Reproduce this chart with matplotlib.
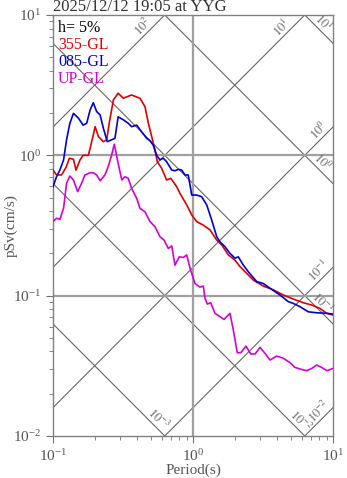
import numpy as np
import matplotlib.pyplot as plt

plt.rcParams['font.family'] = ['Liberation Serif', 'DejaVu Serif']
plt.rcParams['mathtext.fontset'] = 'stix'

title = "2025/12/12 19:05 at YYG"
damping = "h= 5%"

# pseudo velocity response, 355-GL component
t_ns = [0.100, 0.106, 0.115, 0.124, 0.131, 0.140, 0.146, 0.156, 0.164, 0.179,
        0.189, 0.200, 0.211, 0.229, 0.242, 0.252, 0.270, 0.292, 0.318, 0.364,
        0.418, 0.454, 0.480, 0.507, 0.535, 0.556, 0.597, 0.648, 0.693, 0.723,
        0.765, 0.807, 0.902, 0.979, 1.062, 1.185, 1.322, 1.477, 1.603, 1.788,
        1.995, 2.166, 2.419, 2.697, 3.178, 3.748, 4.418, 5.200, 6.14, 7.05,
        8.07, 9.02, 10.0]
sv_ns = [0.785, 0.724, 0.724, 0.821, 0.953, 0.937, 0.785, 0.927, 1.00, 1.00,
         1.25, 1.60, 1.36, 1.25, 1.29, 1.69, 2.48, 2.77, 2.55, 2.69,
         2.55, 2.22, 1.69, 1.36, 1.09, 0.900, 0.808, 0.667, 0.685, 0.648,
         0.597, 0.536, 0.443, 0.376, 0.337, 0.318, 0.294, 0.249, 0.230, 0.195,
         0.179, 0.161, 0.144, 0.129, 0.117, 0.110, 0.101, 0.0946, 0.0890, 0.0857,
         0.0811, 0.0748, 0.0728]

# 085-GL component
t_ew = [0.100, 0.106, 0.112, 0.119, 0.125, 0.132, 0.140, 0.152, 0.164, 0.174,
        0.184, 0.194, 0.205, 0.217, 0.229, 0.244, 0.262, 0.277, 0.292, 0.318,
        0.345, 0.364, 0.396, 0.430, 0.467, 0.493, 0.520, 0.550, 0.581, 0.613,
        0.648, 0.705, 0.743, 0.785, 0.830, 0.877, 0.925, 0.952, 0.979, 1.062,
        1.153, 1.253, 1.360, 1.477, 1.559, 1.693, 1.837, 1.995, 2.107, 2.288,
        2.483, 2.851, 3.178, 3.548, 4.181, 4.795, 5.200, 5.81, 6.67, 7.65,
        9.02, 10.0]
sv_ew = [0.597, 0.704, 0.785, 0.927, 1.29, 1.69, 1.99, 1.84, 1.64, 1.69,
         2.10, 2.37, 2.05, 1.94, 1.56, 1.25, 1.29, 1.32, 1.88, 1.79,
         1.69, 1.60, 1.64, 1.47, 1.32, 1.27, 1.18, 1.00, 0.927, 0.953,
         0.900, 0.785, 0.776, 0.794, 0.785, 0.724, 0.724, 0.614, 0.521, 0.521,
         0.507, 0.443, 0.346, 0.263, 0.242, 0.223, 0.200, 0.185, 0.189, 0.165,
         0.148, 0.126, 0.122, 0.113, 0.101, 0.0906, 0.0881, 0.0834, 0.0767, 0.0755,
         0.0748, 0.0739]

# vertical component
t_ud = [0.100, 0.106, 0.112, 0.119, 0.125, 0.132, 0.140, 0.150, 0.160, 0.169,
        0.184, 0.194, 0.205, 0.217, 0.235, 0.248, 0.262, 0.274, 0.292, 0.310,
        0.327, 0.345, 0.364, 0.396, 0.418, 0.454, 0.493, 0.535, 0.581, 0.621,
        0.666, 0.705, 0.743, 0.798, 0.853, 0.902, 0.952, 1.033, 1.122, 1.185,
        1.218, 1.265, 1.337, 1.436, 1.559, 1.664, 1.837, 1.941, 2.072, 2.192,
        2.391, 2.582, 2.773, 3.012, 3.266, 3.548, 3.963, 4.418, 4.929, 5.35,
        5.97, 6.49, 7.05, 7.65, 8.30, 9.02, 10.0]
sv_ud = [0.337, 0.356, 0.350, 0.419, 0.631, 0.712, 0.667, 0.551, 0.631, 0.724,
         0.751, 0.751, 0.724, 0.659, 0.724, 0.830, 1.00, 1.20, 0.877, 0.667,
         0.704, 0.685, 0.582, 0.494, 0.419, 0.396, 0.337, 0.310, 0.263, 0.249,
         0.217, 0.226, 0.165, 0.189, 0.187, 0.195, 0.157, 0.122, 0.115, 0.117,
         0.0957, 0.0871, 0.0890, 0.0748, 0.0708, 0.0678, 0.0748, 0.0569, 0.0392, 0.0392,
         0.0437, 0.0384, 0.0384, 0.0428, 0.0388, 0.0348, 0.0371, 0.0358, 0.0333, 0.0308,
         0.0298, 0.0292, 0.0303, 0.0320, 0.0308, 0.0292, 0.0303]

components = ["355-GL", "085-GL", "UP-GL"]
colors = ["#e00000", "#0000d8", "#d800d8"]

# tripartite guide lines: acceleration (cm/s^2) and displacement (cm)
acc_levels = [1e-3, 1e-2, 1e-1, 1e0, 1e1, 1e2, 1e3]
disp_levels = [1e-4, 1e-3, 1e-2, 1e-1, 1e0, 1e1, 1e2]
# where each guide line gets its label (period along the line)
acc_marks = [(1e2, 0.477), (1e1, 4.69), (1e0, 8.63), (1e-1, 8.63), (1e-2, 8.63)]
disp_marks = [(1e1, 7.8), (1e0, 7.69), (1e-1, 7.69), (1e-2, 5.35), (1e-3, 0.518)]

fig = plt.figure(figsize=(3.47, 4.78), dpi=100)
ax = fig.add_axes([0.1527, 0.0879, 0.807, 0.8808])
ax.set_xscale('log')
ax.set_yscale('log')
ax.set_xlim(0.1, 10)
ax.set_ylim(0.01, 10)

gray = '#666666'
t = np.logspace(-1, 1, 50)
for a in acc_levels:
    ax.plot(t, a * t / (2 * np.pi), color=gray, lw=0.8, zorder=1)
for d in disp_levels:
    ax.plot(t, 2 * np.pi * d / t, color=gray, lw=0.8, zorder=1)

ax.axvline(1.0, color='#a0a0a0', lw=1.6, zorder=1)
for v in [0.1, 1.0]:
    ax.axhline(v, color='#a0a0a0', lw=1.6, zorder=1)

for a, tp in acc_marks:
    k = int(round(np.log10(a)))
    ax.text(tp, a * tp / (2 * np.pi), r'$10^{%d}$' % k, rotation=45,
            rotation_mode='anchor', ha='center', va='bottom',
            fontsize=9, color=gray)
for d, tp in disp_marks:
    k = int(round(np.log10(d)))
    ax.text(tp, 2 * np.pi * d / tp, r'$10^{%d}$' % k, rotation=-45,
            rotation_mode='anchor', ha='center', va='bottom',
            fontsize=9, color=gray)

for tt, sv, c in zip([t_ns, t_ew, t_ud], [sv_ns, sv_ew, sv_ud], colors):
    ax.plot(tt, sv, color=c, lw=1.2, zorder=3)

# legend as stacked coloured text
ax.text(0.018, 0.969, damping, transform=ax.transAxes, fontsize=11.5,
        color='black', va='center')
for i, (name, c) in enumerate(zip(components, colors)):
    ax.text(0.018, 0.929 - 0.04 * i, name, transform=ax.transAxes,
            fontsize=11.5, color=c, va='center')

for s in ax.spines.values():
    s.set_color('#808080')
    s.set_linewidth(1.0)
ax.tick_params(which='both', direction='out', colors='#707070',
               labelcolor='#555555', labelsize=11)
ax.tick_params(which='major', length=5)
ax.tick_params(which='minor', length=3)

ax.set_xlabel("Period(s)", fontsize=11, color='#555555', labelpad=0)
ax.set_ylabel("pSv(cm/s)", fontsize=11, color='#555555')
ax.yaxis.set_label_coords(-0.125, 0.5)
ax.set_title(title, loc='left', fontsize=12, color='#333333', pad=3)

fig.savefig("out.png", dpi=100)
